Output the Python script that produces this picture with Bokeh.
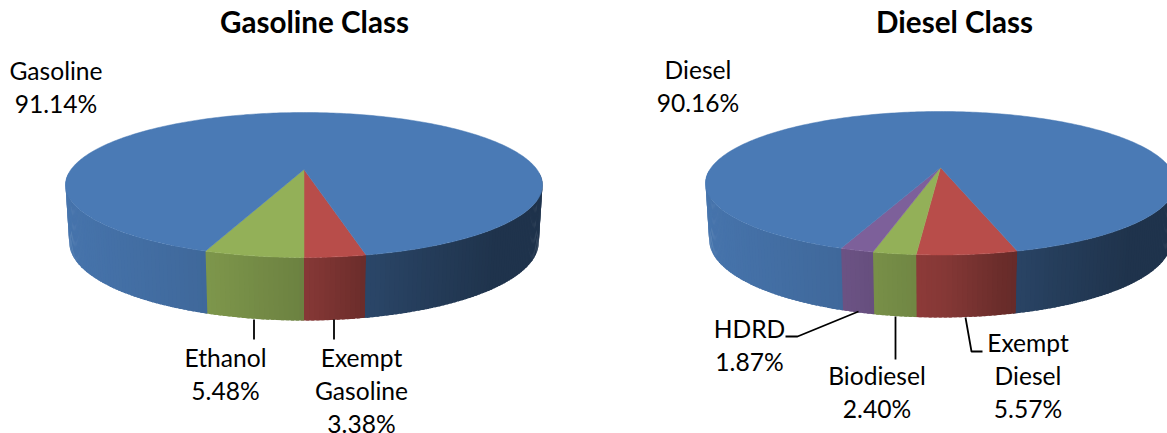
import math
from bokeh.core.properties import value
from bokeh.embed import file_html
from bokeh.plotting import figure
from bokeh.resources import INLINE

# Fuel shares, listed clockwise from the first slice
gasoline_names = ["Exempt Gasoline", "Ethanol", "Gasoline"]
gasoline_shares = [3.38, 5.48, 91.14]
diesel_names = ["Exempt Diesel", "Biodiesel", "HDRD", "Diesel"]
diesel_shares = [5.57, 2.40, 1.87, 90.16]

BLUE = (74, 122, 181)
RED = (184, 77, 74)
GREEN = (147, 176, 88)
PURPLE = (125, 96, 154)
gasoline_colors = [RED, GREEN, BLUE]
diesel_colors = [RED, GREEN, PURPLE, BLUE]

TEXT = "#000000"
FONT = "Lato"

WIDTH, HEIGHT = 1167, 433

p = figure(width=WIDTH, height=HEIGHT, x_range=(0, WIDTH), y_range=(HEIGHT, 0),
           output_backend="svg", toolbar_location=None, min_border=0)
p.axis.visible = False
p.grid.visible = False
p.outline_line_color = None


def hex_shaded(rgb, k):
    return "#%02x%02x%02x" % tuple(min(255, int(round(c * k))) for c in rgb)


# Wall shading as a function of horizontal position (-1 left rim, +1 right rim)
SHADE_T = [-1.0, -0.4, 0.0, 0.25, 0.5, 0.8, 1.0]
SHADE_K = [0.95, 0.85, 0.73, 0.58, 0.50, 0.42, 0.42]


def shade(t):
    t = max(-1.0, min(1.0, t))
    for i in range(len(SHADE_T) - 1):
        if t <= SHADE_T[i + 1]:
            f = (t - SHADE_T[i]) / (SHADE_T[i + 1] - SHADE_T[i])
            return SHADE_K[i] + f * (SHADE_K[i + 1] - SHADE_K[i])
    return SHADE_K[-1]


def draw_pie(shares, colors, cx, apex_y, top_y, front_y, half_width, foot_y, first_angle):
    """Perspective 3D pie; angles are measured from the front, positive to the right."""
    c = (2 * apex_y - top_y - front_y) / (front_y - top_y)
    a = front_y * (1 + c) - apex_y
    k = half_width * math.sqrt(1 - c * c)
    e = 0.015
    f = foot_y * (1 + c + e) - a - apex_y
    side_bulge = 4.0

    def rim(theta):
        u, v = math.sin(theta), math.cos(theta)
        w = 1 + c * v
        top = (cx + k * u / w, (a * v + apex_y) / w)
        low = (cx + k * u / (w + e),
               (a * v + apex_y + f) / (w + e) + side_bulge * (1 - v * v))
        return top, low

    wall_xs, wall_ys, wall_cols = [], [], []
    tops = []
    overlap = math.radians(0.6)

    def add_strip(t0, t1, col):
        (a0, b0), (a1, b1) = rim(t0), rim(t1)
        wall_xs.append([a0[0], a1[0], b1[0], b0[0]])
        wall_ys.append([a0[1], a1[1], b1[1], b0[1]])
        mid = (a0[0] + a1[0]) / 2
        wall_cols.append(hex_shaded(col, shade((mid - cx) / half_width)))

    # a backing strip under the joint where the last slice meets the first
    first = math.radians(first_angle)
    add_strip(first + overlap, first - overlap, colors[-1])

    # each strip runs a little into the next one so no seams show;
    # strips on the far side of the pie stay hidden and are skipped
    start = first_angle
    for idx, (share, col) in enumerate(zip(shares, colors)):
        sweep = share * 3.6
        steps = max(2, int(round(sweep)))
        angles = [math.radians(start - sweep * i / steps) for i in range(steps + 1)]
        last = idx == len(shares) - 1
        for j, (t0, t1) in enumerate(zip(angles[:-1], angles[1:])):
            if math.cos((t0 + t1) / 2) < 0.05:
                continue
            add_strip(t0, t1 if (last and j == steps - 1) else t1 - overlap, col)
        outline = [rim(t)[0] for t in angles]
        tops.append(([cx] + [q[0] for q in outline], [apex_y] + [q[1] for q in outline],
                     hex_shaded(col, 1.0)))
        start -= sweep
    p.patches(wall_xs, wall_ys, fill_color=wall_cols, line_color=None)
    p.patches([t[0] for t in tops], [t[1] for t in tops], fill_color=[t[2] for t in tops],
              line_color=[t[2] for t in tops], line_width=0.5)


draw_pie(gasoline_shares, gasoline_colors, 303.5, 169, 112, 257, 238.5, 320,
         gasoline_shares[0] * 3.6)
draw_pie(diesel_shares, diesel_colors, 940, 167, 111, 254.5, 235, 317, 15.3)


def label(x, y, lines, size="24.6px", style="normal"):
    for i, line in enumerate(lines):
        p.text([x], [y + i * 32.8], text=[line], text_font=value(FONT), text_font_size=size,
               text_font_style=style, text_color=TEXT, text_align="center",
               text_baseline="middle")


label(314, 21, ["Gasoline Class"], "29.6px", "bold")
label(954, 21, ["Diesel Class"], "29.6px", "bold")
label(55.5, 70, ["Gasoline", "91.14%"])
label(697.5, 69, ["Diesel", "90.16%"])
label(225, 357, ["Ethanol", "5.48%"])
label(361, 357, ["Exempt", "Gasoline", "3.38%"])
label(749, 328, ["HDRD", "1.87%"])
label(876.5, 375, ["Biodiesel", "2.40%"])
label(1027.5, 342, ["Exempt", "Diesel", "5.57%"])

# Leader lines from the labels to their slices
leader_xs = [[253.5, 253.5], [333.5, 333.5], [785, 797, 858], [895, 895], [965, 971, 982]]
leader_ys = [[319, 339], [319, 339], [336, 336, 311], [316, 359], [317, 351, 351]]
p.multi_line(leader_xs, leader_ys, line_color="#000000", line_width=1.8)

open("out.html", "w").write(file_html(p, INLINE))
